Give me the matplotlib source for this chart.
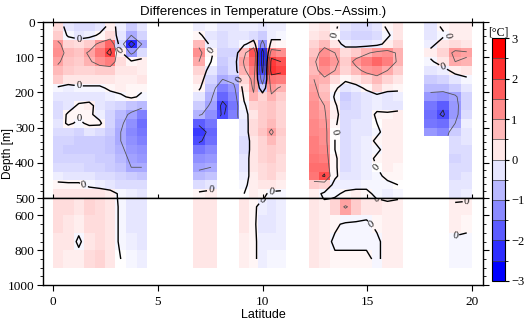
import numpy as np
import matplotlib.pyplot as plt
from matplotlib import colors
from matplotlib.ticker import MultipleLocator

nan = np.nan

# depth cell edges [m] (same rows for every segment)
depth_edges = [0, 25, 50, 75, 100, 125, 150, 175, 200, 225, 250, 275, 300,
               325, 350, 375, 400, 425, 450, 475, 500, 600, 700, 800, 900]

# latitude cell edges of the four observed segments (gaps between them)
lat_a = [0, 0.5, 1.0, 1.5, 2.0, 2.5, 3.0, 3.5, 4.0, 4.5]
lat_b = [6.7, 7.25, 7.85, 8.35, 8.9, 9.35, 9.8, 10.2, 10.65, 11.1]
lat_c = [12.2, 12.7, 13.2, 13.7, 14.2, 14.7, 15.2, 15.7, 16.2, 16.7]
lat_d = [17.7, 18.3, 18.9, 19.45, 20.0]

# temperature differences, rows = depth cells, cols = latitude cells
temp_a = [
    [0.4, -0.3, -0.4, -0.4, -0.3, 0.2, -0.2, -0.6, -0.3],
    [0.6, -0.1, -0.3, -0.2, 0.1, 0.4, -0.3, -1.0, -0.5],
    [1.2, 0.5, 0.4, 0.6, 1.2, 1.8, -0.5, -2.5, -1.0],
    [1.3, 0.8, 0.7, 1.1, 1.6, 2.2, 0.2, -1.2, -0.4],
    [1.1, 0.7, 0.6, 0.9, 1.3, 1.5, 0.4, 0.1, 0.2],
    [0.8, 0.6, 0.5, 0.5, 0.6, 0.6, 0.3, 0.3, 0.2],
    [0.6, 0.3, 0.3, 0.3, 0.3, 0.3, 0.2, 0.2, 0.3],
    [-0.1, -0.2, -0.1, -0.1, -0.1, 0.1, 0.2, 0.1, 0.1],
    [-0.3, -0.3, -0.3, -0.3, -0.3, -0.2, -0.1, 0.1, -0.1],
    [-0.4, -0.3, 0.1, 0.2, -0.3, -0.4, -0.5, -0.7, -0.8],
    [-0.4, 0.1, 0.1, 0.1, -0.2, -0.5, -0.8, -1.1, -1.5],
    [-0.3, 0.1, -0.1, 0.1, 0.1, -0.5, -0.9, -1.3, -1.7],
    [-0.4, -0.4, -0.5, -0.3, -0.4, -0.6, -1.0, -1.4, -1.6],
    [-0.5, -0.5, -0.6, -0.6, -0.6, -0.7, -1.0, -1.3, -1.5],
    [-0.5, -0.6, -0.6, -0.6, -0.6, -0.7, -0.9, -1.2, -1.3],
    [-0.5, -0.5, -0.5, -0.5, -0.6, -0.6, -0.8, -1.1, -1.2],
    [-0.4, -0.4, -0.4, -0.5, -0.5, -0.6, -0.7, -1.0, -1.0],
    [-0.2, -0.3, -0.3, -0.3, -0.4, -0.4, -0.5, -0.6, -0.7],
    [0.1, 0.1, 0.1, -0.1, -0.2, -0.3, -0.4, -0.4, -0.4],
    [0.3, 0.3, 0.3, 0.3, 0.3, 0.2, -0.1, -0.2, -0.3],
    [0.4, 0.4, 0.3, 0.5, 0.4, 0.3, -0.1, -0.3, -0.3],
    [0.4, 0.3, 0.2, 0.4, 0.4, 0.3, -0.1, -0.3, -0.3],
    [0.3, 0.3, -0.1, 0.3, 0.4, 0.3, -0.1, -0.2, -0.3],
    [0.3, 0.2, 0.2, 0.4, 0.5, 0.3, 0.0, -0.1, -0.2],
]

temp_b = [
    [-0.2, -0.1, -0.3, -0.3, -0.2, -0.2, -0.3, -0.2, -0.2],
    [0.1, -0.3, -0.4, -0.3, -0.3, -0.4, -0.6, -0.2, -0.1],
    [0.8, -0.2, -0.4, -0.3, -0.1, 0.3, -1.3, 0.2, 0.1],
    [1.3, 0.1, -0.5, -0.5, 0.8, 2.0, -2.6, 1.5, 1.3],
    [1.0, 0.0, -0.6, -0.4, 1.1, 1.8, -2.5, 2.3, 2.0],
    [0.5, -0.3, -0.7, -0.4, 0.9, 1.5, -2.2, 2.4, 2.2],
    [0.3, -0.5, -1.0, -0.8, 0.5, 1.2, -1.5, 1.6, 1.5],
    [0.1, -0.7, -1.5, -1.2, 0.3, 1.1, -0.6, 1.2, 0.9],
    [-0.3, -0.9, -1.8, -1.4, 0.1, 0.9, 0.5, 0.9, 0.6],
    [-0.6, -1.1, -2.2, -1.6, -0.1, 0.5, 0.6, 0.7, 0.5],
    [-0.9, -1.3, -2.1, -1.5, -0.2, 0.3, 0.6, 0.7, 0.5],
    [-1.9, -1.6, nan, nan, -0.3, 0.4, 0.6, 0.8, 0.5],
    [-2.3, -1.8, nan, nan, -0.3, 0.4, 0.7, 1.1, 0.6],
    [-2.1, -1.7, nan, nan, -0.4, 0.3, 0.5, 0.8, 0.5],
    [-1.6, -1.4, nan, nan, -0.4, 0.3, 0.5, 0.6, 0.5],
    [-1.3, -1.2, nan, nan, -0.3, 0.3, 0.5, 0.6, 0.4],
    [-1.1, -1.0, nan, nan, -0.3, 0.3, 0.4, 0.5, 0.4],
    [-0.8, -0.7, nan, nan, -0.2, 0.2, 0.4, 0.5, 0.3],
    [-0.4, -0.3, nan, nan, -0.1, 0.2, 0.3, 0.3, 0.2],
    [0.1, 0.2, nan, nan, 0.0, 0.2, 0.1, -0.1, -0.1],
    [0.3, 0.3, nan, nan, 0.3, 0.1, -0.2, -0.3, -0.2],
    [0.3, 0.3, nan, nan, 0.3, 0.1, -0.3, -0.3, -0.2],
    [0.3, 0.3, nan, nan, 0.2, 0.1, -0.2, -0.2, -0.2],
    [0.3, 0.3, nan, nan, 0.2, 0.1, -0.2, -0.1, -0.1],
]

temp_c = [
    [0.2, 0.3, 0.1, -0.3, -0.4, -0.4, -0.3, 0.1, 0.3],
    [0.3, 0.4, 0.0, -0.4, -0.5, -0.5, -0.4, -0.1, 0.3],
    [0.5, 0.8, 0.3, -0.2, -0.3, -0.3, -0.2, 0.2, 0.5],
    [0.7, 1.3, 1.0, 0.4, 0.6, 0.9, 1.2, 1.3, 0.9],
    [0.9, 1.5, 1.2, 0.6, 1.2, 1.5, 1.8, 1.5, 0.9],
    [0.8, 1.3, 1.0, 0.5, 0.8, 1.2, 1.3, 1.0, 0.6],
    [1.0, 0.9, 0.4, 0.1, 0.3, 0.5, 0.8, 0.5, 0.3],
    [1.1, 0.7, 0.1, -0.3, -0.2, 0.1, 0.5, 0.2, 0.1],
    [1.2, 0.8, -0.1, -0.6, -0.4, -0.3, -0.2, -0.3, -0.2],
    [1.3, 1.0, 0.1, -0.5, -0.4, -0.3, -0.2, -0.3, -0.3],
    [1.3, 1.1, 0.2, -0.4, -0.4, -0.3, 0.1, 0.1, 0.2],
    [1.4, 1.2, 0.1, -0.4, -0.3, -0.3, 0.0, 0.2, 0.2],
    [1.4, 1.3, 0.0, -0.4, -0.3, -0.3, -0.1, 0.2, 0.2],
    [1.5, 1.3, 0.0, -0.4, -0.3, -0.2, 0.1, 0.2, 0.2],
    [1.5, 1.4, 0.0, -0.4, -0.3, -0.2, -0.1, 0.2, 0.2],
    [1.6, 1.5, 0.1, -0.4, -0.3, -0.2, 0.1, 0.2, 0.2],
    [1.7, 1.7, 0.1, -0.4, -0.3, -0.2, 0.0, 0.2, 0.1],
    [1.6, 2.1, 0.1, -0.3, -0.3, -0.2, -0.1, 0.1, 0.1],
    [0.6, 0.5, -0.2, -0.2, -0.2, -0.1, -0.1, -0.1, 0.0],
    [0.2, -0.1, -0.1, 0.1, 0.2, 0.1, -0.1, -0.2, -0.1],
    [0.3, 0.2, 0.5, 1.1, 0.6, 0.3, 0.3, 0.2, 0.2],
    [0.3, 0.2, 0.1, -0.1, -0.1, -0.1, 0.1, 0.2, 0.2],
    [0.3, 0.2, -0.1, -0.1, -0.1, -0.1, -0.1, 0.2, 0.2],
    [0.3, 0.2, 0.1, 0.1, 0.1, 0.1, -0.1, 0.2, 0.2],
]

temp_d = [
    [-0.3, 0.1, 0.2, 0.2],
    [-0.3, -0.1, 0.2, 0.2],
    [-0.2, 0.3, 0.4, 0.3],
    [0.2, 0.5, 1.2, 1.1],
    [-0.1, 0.3, 1.0, 0.9],
    [-0.3, -0.2, 0.2, 0.3],
    [-0.6, -0.5, -0.3, -0.1],
    [-0.8, -0.8, -0.6, -0.3],
    [-1.2, -1.3, -1.1, -0.5],
    [-1.6, -1.9, -1.2, -0.5],
    [-1.7, -2.1, -1.2, -0.4],
    [-1.6, -1.7, -1.0, -0.2],
    [-1.2, -1.4, -0.6, -0.3],
    [nan, nan, -0.4, -0.3],
    [nan, nan, -0.4, -0.4],
    [nan, nan, -0.5, -0.4],
    [nan, nan, -0.4, -0.4],
    [nan, nan, -0.4, -0.3],
    [nan, nan, -0.3, -0.3],
    [nan, nan, -0.3, -0.2],
    [nan, nan, 0.2, 0.2],
    [nan, nan, 0.2, 0.1],
    [nan, nan, -0.1, -0.1],
    [nan, nan, -0.1, -0.1],
]

cbar_ticks = [-3, -2, -1, 0, 1, 2, 3]

# glue segments together, gap cells in between are empty
nrow = len(depth_edges) - 1
lat_edges = []
cols = []
for i, (e, t) in enumerate([(lat_a, temp_a), (lat_b, temp_b), (lat_c, temp_c), (lat_d, temp_d)]):
    if i > 0:
        cols.append(np.full((nrow, 1), nan))
    lat_edges += e
    cols.append(np.array(t))
field = np.ma.masked_invalid(np.hstack(cols))
lat_edges = np.array(lat_edges)
depth_edges = np.array(depth_edges)
lat_mid = (lat_edges[:-1] + lat_edges[1:]) / 2
depth_mid = (depth_edges[:-1] + depth_edges[1:]) / 2

serif = 'Liberation Serif'
sans = 'Liberation Sans'

fig = plt.figure(figsize=(5.25, 3.2), dpi=100)
ax_top = fig.add_axes([0.082, 0.381, 0.838, 0.55])
ax_bot = fig.add_axes([0.082, 0.109, 0.838, 0.272])

cmap = plt.get_cmap('bwr')
norm = colors.Normalize(vmin=-3, vmax=3)

for ax in (ax_top, ax_bot):
    ax.pcolormesh(lat_edges, depth_edges, field, cmap=cmap, norm=norm, shading='flat')
    ax.contour(lat_mid, depth_mid, field, levels=[-2, 2], colors='#222222',
               linewidths=0.6, linestyles='solid')
    ax.contour(lat_mid, depth_mid, field, levels=[-1, 1], colors='#555555',
               linewidths=0.6, linestyles='solid')
    cs0 = ax.contour(lat_mid, depth_mid, field, levels=[0], colors='k', linewidths=1.0)
    lbls = ax.clabel(cs0, fmt='%d', fontsize=7.5, inline=True, inline_spacing=1)
    for t in lbls:
        t.set_family(serif)
    ax.set_xlim(-0.45, 20.5)
    ax.set_xticks([0, 5, 10, 15, 20])
    for sp in ax.spines.values():
        sp.set_linewidth(1.0)

ax_top.set_ylim(500, 0)
ax_top.set_yticks([0, 100, 200, 300, 400, 500])
ax_top.yaxis.set_minor_locator(MultipleLocator(20))
ax_top.tick_params(axis='x', which='both', top=True, bottom=True, labelbottom=False,
                   direction='inout', length=6)
ax_top.tick_params(axis='y', which='both', left=True, right=True, direction='out')
ax_top.tick_params(axis='y', which='major', length=4, labelsize=9.5, pad=2)
ax_top.tick_params(axis='y', which='minor', length=2)

ax_bot.set_ylim(1000, 500)
ax_bot.set_yticks([600, 800, 1000])
ax_bot.yaxis.set_minor_locator(MultipleLocator(50))
ax_bot.tick_params(axis='x', which='both', top=False, bottom=True, direction='out',
                   length=4, labelsize=9.5)
ax_bot.tick_params(axis='y', which='both', left=True, right=True, direction='out')
ax_bot.tick_params(axis='y', which='major', length=4, labelsize=9.5, pad=2)
ax_bot.tick_params(axis='y', which='minor', length=2)

for ax in (ax_top, ax_bot):
    for lab in ax.get_xticklabels() + ax.get_yticklabels():
        lab.set_family(serif)

ax_top.set_title('Differences in Temperature (Obs.\u2212Assim.)', fontsize=9.5,
                 family=sans, pad=5)
fig.text(0.016, 0.52, 'Depth [m]', rotation=90, va='center', ha='center',
         fontsize=8.5, family=sans)
ax_bot.set_xlabel('Latitude', fontsize=9, family=sans, labelpad=1)

# colourbar with 0.5 degree bands
cax = fig.add_axes([0.937, 0.122, 0.025, 0.759])
bounds = np.arange(-3, 3.01, 0.5)
sm = plt.cm.ScalarMappable(norm=colors.BoundaryNorm(bounds, cmap.N), cmap=cmap)
cb = fig.colorbar(sm, cax=cax, boundaries=bounds, ticks=cbar_ticks, drawedges=True)
cb.dividers.set_color('#444444')
cb.dividers.set_linewidth(0.5)
cb.outline.set_linewidth(0.8)
cax.tick_params(labelsize=9, length=3, pad=1.5)
for lab in cax.get_yticklabels():
    lab.set_family(serif)
cax.set_title('[\u00b0C]', fontsize=8.5, family=serif, pad=1)

fig.savefig('out.png', dpi=100)
